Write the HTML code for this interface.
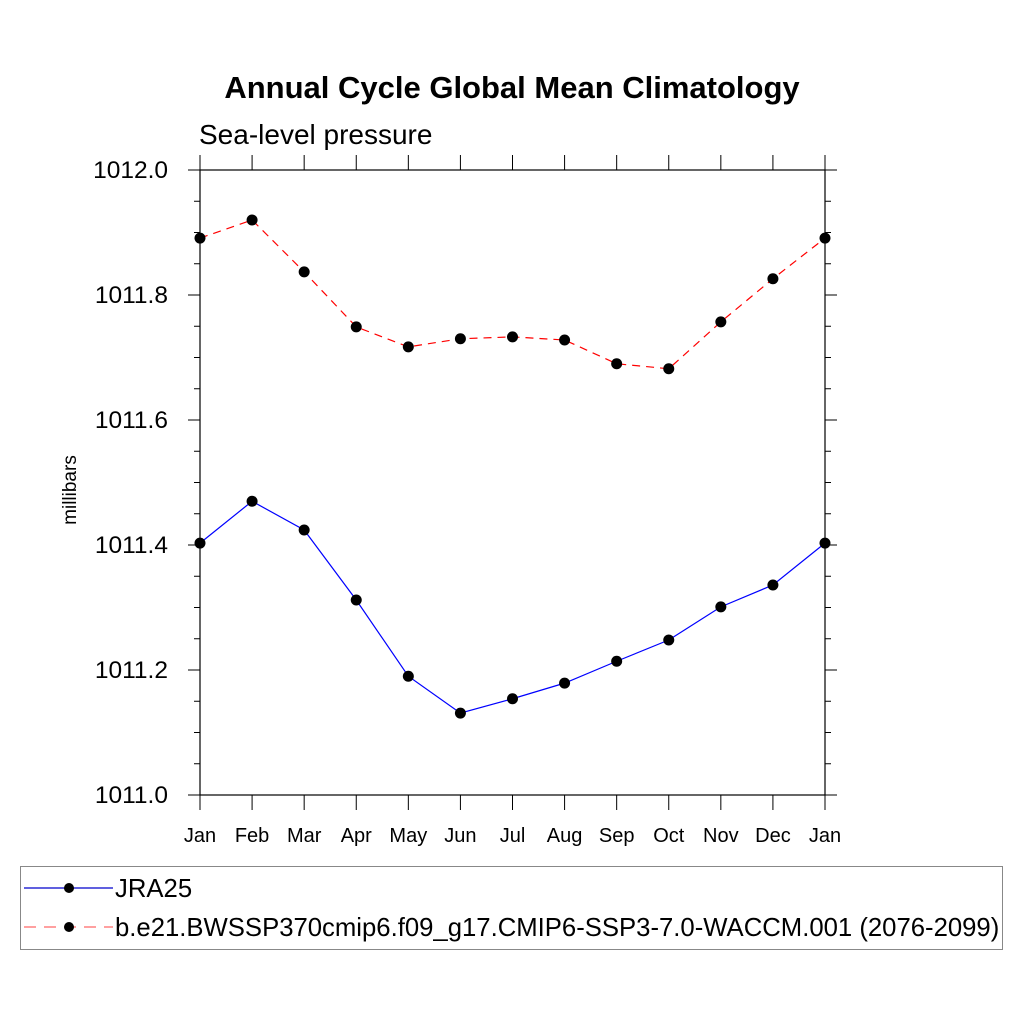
<!DOCTYPE html>
<html><head><meta charset="utf-8"><style>
body{margin:0;background:#fff}
svg text{font-family:"Liberation Sans",sans-serif;fill:#000}
</style></head><body>
<svg id="chart" width="1024" height="1024" viewBox="0 0 1024 1024" xmlns="http://www.w3.org/2000/svg">
<text x="512" y="98" text-anchor="middle" font-size="31" font-weight="bold">Annual Cycle Global Mean Climatology</text>
<text x="199" y="144" font-size="28">Sea-level pressure</text>
<text transform="translate(76,490) rotate(-90)" text-anchor="middle" font-size="19">millibars</text>
<g id="axes"></g>
<g id="series"></g>
<g>
<rect x="20.5" y="866.5" width="982" height="83" fill="none" stroke="#888" stroke-width="1"/>
<g>
<line x1="24" y1="888" x2="113" y2="888" stroke="#0000cc" stroke-width="1.2"/>
<circle cx="69" cy="888" r="5" fill="#000"/>
<text x="115" y="897" font-size="25.7">JRA25</text>
</g>
<g>
<line x1="24" y1="927" x2="113" y2="927" stroke="#ff8080" stroke-width="1.5" stroke-dasharray="12,8"/>
<circle cx="69" cy="927" r="5" fill="#000"/>
<text x="115" y="936" font-size="25.7">b.e21.BWSSP370cmip6.f09_g17.CMIP6-SSP3-7.0-WACCM.001 (2076-2099)</text>
</g>
</g>
</svg>
<script>
const months = ["Jan","Feb","Mar","Apr","May","Jun","Jul","Aug","Sep","Oct","Nov","Dec","Jan"];
const jra25 = [1011.403,1011.470,1011.424,1011.312,1011.190,1011.131,1011.154,1011.179,1011.214,1011.248,1011.301,1011.336,1011.403];
const waccm = [1011.891,1011.920,1011.837,1011.749,1011.717,1011.730,1011.733,1011.728,1011.690,1011.682,1011.757,1011.826,1011.891];
const yTicks = [1011.0,1011.2,1011.4,1011.6,1011.8,1012.0];
const yMin = 1011.0, yMax = 1012.0;
const L=200,R=825,T=170,B=795;
const NS="http://www.w3.org/2000/svg";
function xs(i){return L+(R-L)*i/(months.length-1);}
function ys(v){return B-(B-T)*(v-yMin)/(yMax-yMin);}
function mk(tag,attrs,parent){const e=document.createElementNS(NS,tag);for(const k in attrs)e.setAttribute(k,attrs[k]);parent.appendChild(e);return e;}
const ax=document.getElementById('axes');
const frame=mk('rect',{x:L,y:T,width:R-L,height:B-T,fill:'none',stroke:'#000','stroke-width':1.2},ax);


for(let v=yMin; v<=yMax+1e-9; v+=0.05){
  const y=ys(v);const major=Math.abs((v-yMin)/0.2-Math.round((v-yMin)/0.2))<1e-6;
  const len=major?12:6;
  mk('line',{x1:L-len,y1:y,x2:L,y2:y,stroke:'#000','stroke-width':1},ax);
  mk('line',{x1:R,y1:y,x2:R+len,y2:y,stroke:'#000','stroke-width':1},ax);
}
yTicks.forEach(v=>{
  const t=mk('text',{x:L-32,y:ys(v)+8,'text-anchor':'end','font-size':24.5},ax);
  t.textContent=v.toFixed(1);
  
  
});
months.forEach((m,i)=>{
  const x=xs(i);
  mk('line',{x1:x,y1:B,x2:x,y2:B+15,stroke:'#000','stroke-width':1},ax);
  mk('line',{x1:x,y1:T-15,x2:x,y2:T,stroke:'#000','stroke-width':1},ax);
  const t=mk('text',{x:x,y:842,'text-anchor':'middle','font-size':20},ax);
  t.textContent=m;
  
  
});
const sg=document.getElementById('series');
function drawSeries(vals,color,dash,name){
  const g=mk('g',{},sg);
  
  
  const pts=vals.map((v,i)=>xs(i)+','+ys(v)).join(' ');
  const a={points:pts,fill:'none',stroke:color,'stroke-width':1.2};
  if(dash)a['stroke-dasharray']=dash;
  mk('polyline',a,g);
  vals.forEach((v,i)=>{
    const c=mk('circle',{cx:xs(i),cy:ys(v),r:5.5,fill:'#000'},g);
    
    
  });
}
drawSeries(jra25,'#0000ff',null,'series-jra25');
drawSeries(waccm,'#ff0000','8,6','series-waccm');
</script>
</body></html>
